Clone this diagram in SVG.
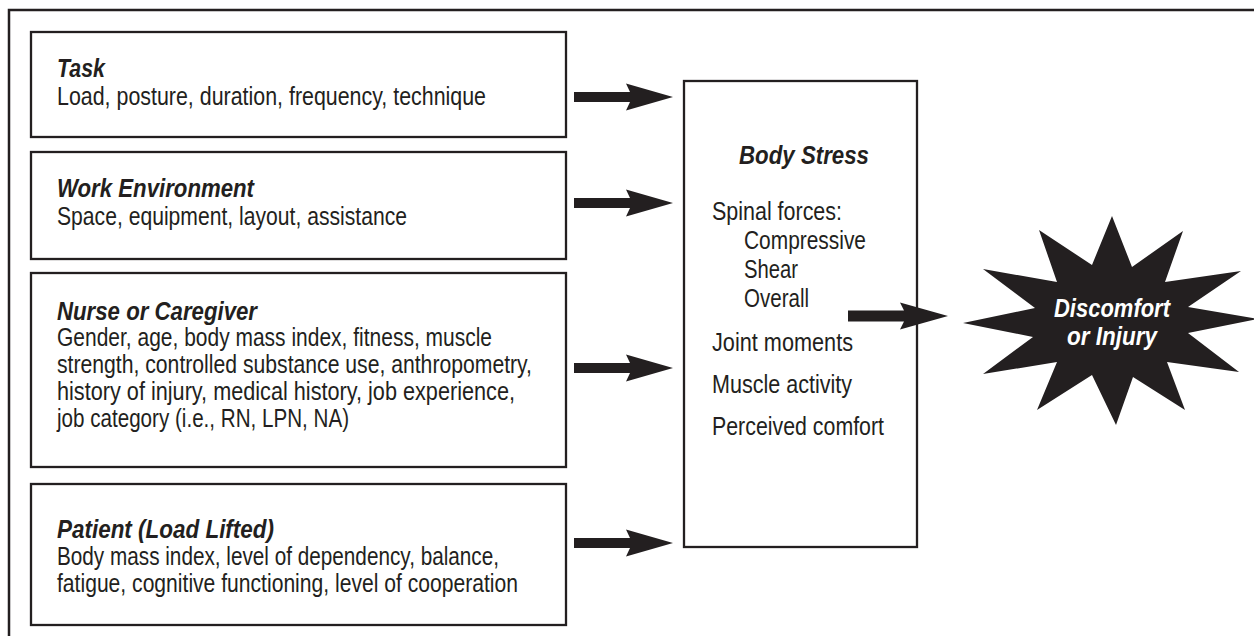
<svg xmlns="http://www.w3.org/2000/svg" width="1254" height="636" viewBox="0 0 1254 636">
<style>
.frame{fill:none;stroke:#231f20;stroke-width:2.5}
.box{fill:#fff;stroke:#231f20;stroke-width:2.3}
.t{font-family:"Liberation Sans",Arial,sans-serif;font-size:25px;fill:#231f20}
.h{font-family:"Liberation Sans",Arial,sans-serif;font-size:25px;font-weight:bold;font-style:italic;fill:#231f20}
.w{font-family:"Liberation Sans",Arial,sans-serif;font-size:25px;font-weight:bold;font-style:italic;fill:#fff;text-anchor:middle}
.arrow{fill:#231f20}
.star{fill:#231f20}
</style>
<rect width="1254" height="636" fill="#fff"/>
<path class="frame" d="M9,636 V10 H1254"/>

<g id="task">
<rect class="box" x="31" y="32" width="535" height="105"/>
<text class="h" x="57" y="77" textLength="48" lengthAdjust="spacingAndGlyphs">Task</text>
<text class="t" x="57" y="105" textLength="429" lengthAdjust="spacingAndGlyphs">Load, posture, duration, frequency, technique</text>
</g>

<g id="work-environment">
<rect class="box" x="31" y="152" width="535" height="107"/>
<text class="h" x="57" y="197" textLength="197" lengthAdjust="spacingAndGlyphs">Work Environment</text>
<text class="t" x="57" y="225" textLength="350" lengthAdjust="spacingAndGlyphs">Space, equipment, layout, assistance</text>
</g>

<g id="nurse-caregiver">
<rect class="box" x="31" y="273" width="535" height="194"/>
<text class="h" x="57" y="320" textLength="200" lengthAdjust="spacingAndGlyphs">Nurse or Caregiver</text>
<text class="t" x="57" y="346" textLength="435" lengthAdjust="spacingAndGlyphs">Gender, age, body mass index, fitness, muscle</text>
<text class="t" x="57" y="373" textLength="475" lengthAdjust="spacingAndGlyphs">strength, controlled substance use, anthropometry,</text>
<text class="t" x="57" y="400" textLength="458" lengthAdjust="spacingAndGlyphs">history of injury, medical history, job experience,</text>
<text class="t" x="57" y="427" textLength="292" lengthAdjust="spacingAndGlyphs">job category (i.e., RN, LPN, NA)</text>
</g>

<g id="patient">
<rect class="box" x="31" y="484" width="535" height="141"/>
<text class="h" x="57" y="538" textLength="217" lengthAdjust="spacingAndGlyphs">Patient (Load Lifted)</text>
<text class="t" x="57" y="565" textLength="442" lengthAdjust="spacingAndGlyphs">Body mass index, level of dependency, balance,</text>
<text class="t" x="57" y="592" textLength="461" lengthAdjust="spacingAndGlyphs">fatigue, cognitive functioning, level of cooperation</text>
</g>

<g id="body-stress">
<rect class="box" x="684" y="81" width="233" height="466"/>
<text class="h" x="739" y="164" textLength="130" lengthAdjust="spacingAndGlyphs">Body Stress</text>
<text class="t" x="712" y="220" textLength="130" lengthAdjust="spacingAndGlyphs">Spinal forces:</text>
<text class="t" x="744" y="249" textLength="122" lengthAdjust="spacingAndGlyphs">Compressive</text>
<text class="t" x="744" y="278" textLength="54" lengthAdjust="spacingAndGlyphs">Shear</text>
<text class="t" x="744" y="307" textLength="65" lengthAdjust="spacingAndGlyphs">Overall</text>
<text class="t" x="712" y="351" textLength="141" lengthAdjust="spacingAndGlyphs">Joint moments</text>
<text class="t" x="712" y="393" textLength="140" lengthAdjust="spacingAndGlyphs">Muscle activity</text>
<text class="t" x="712" y="435" textLength="172" lengthAdjust="spacingAndGlyphs">Perceived comfort</text>
</g>

<g id="discomfort-injury">
<polygon class="star" points="1112,216 1132,267 1183,231 1165,282 1241,271 1188,307 1258,319 1188,333 1239,372 1167,362 1185,410 1133,377 1116,425 1092,375 1037,410 1057,362 983,374 1033,337 963,323 1035,308 983,269 1057,282 1039,230 1092,265"/>
<text class="w" x="1112" y="317" textLength="116" lengthAdjust="spacingAndGlyphs">Discomfort</text>
<text class="w" x="1112" y="345" textLength="90" lengthAdjust="spacingAndGlyphs">or Injury</text>
</g>

<g id="connectors">
<polygon class="arrow" points="574,92 630,92 626,83.5 673,97 626,110.5 630,102 574,102"/>
<polygon class="arrow" points="574,198 630,198 626,189.5 673,203 626,216.5 630,208 574,208"/>
<polygon class="arrow" points="574,363 630,363 626,354.5 673,368 626,381.5 630,373 574,373"/>
<polygon class="arrow" points="574,538 630,538 626,529.5 673,543 626,556.5 630,548 574,548"/>
<polygon class="arrow" points="848,310.5 904,310.5 900,302.5 948,316 900,329.5 904,321.5 848,321.5"/>
</g>
</svg>
